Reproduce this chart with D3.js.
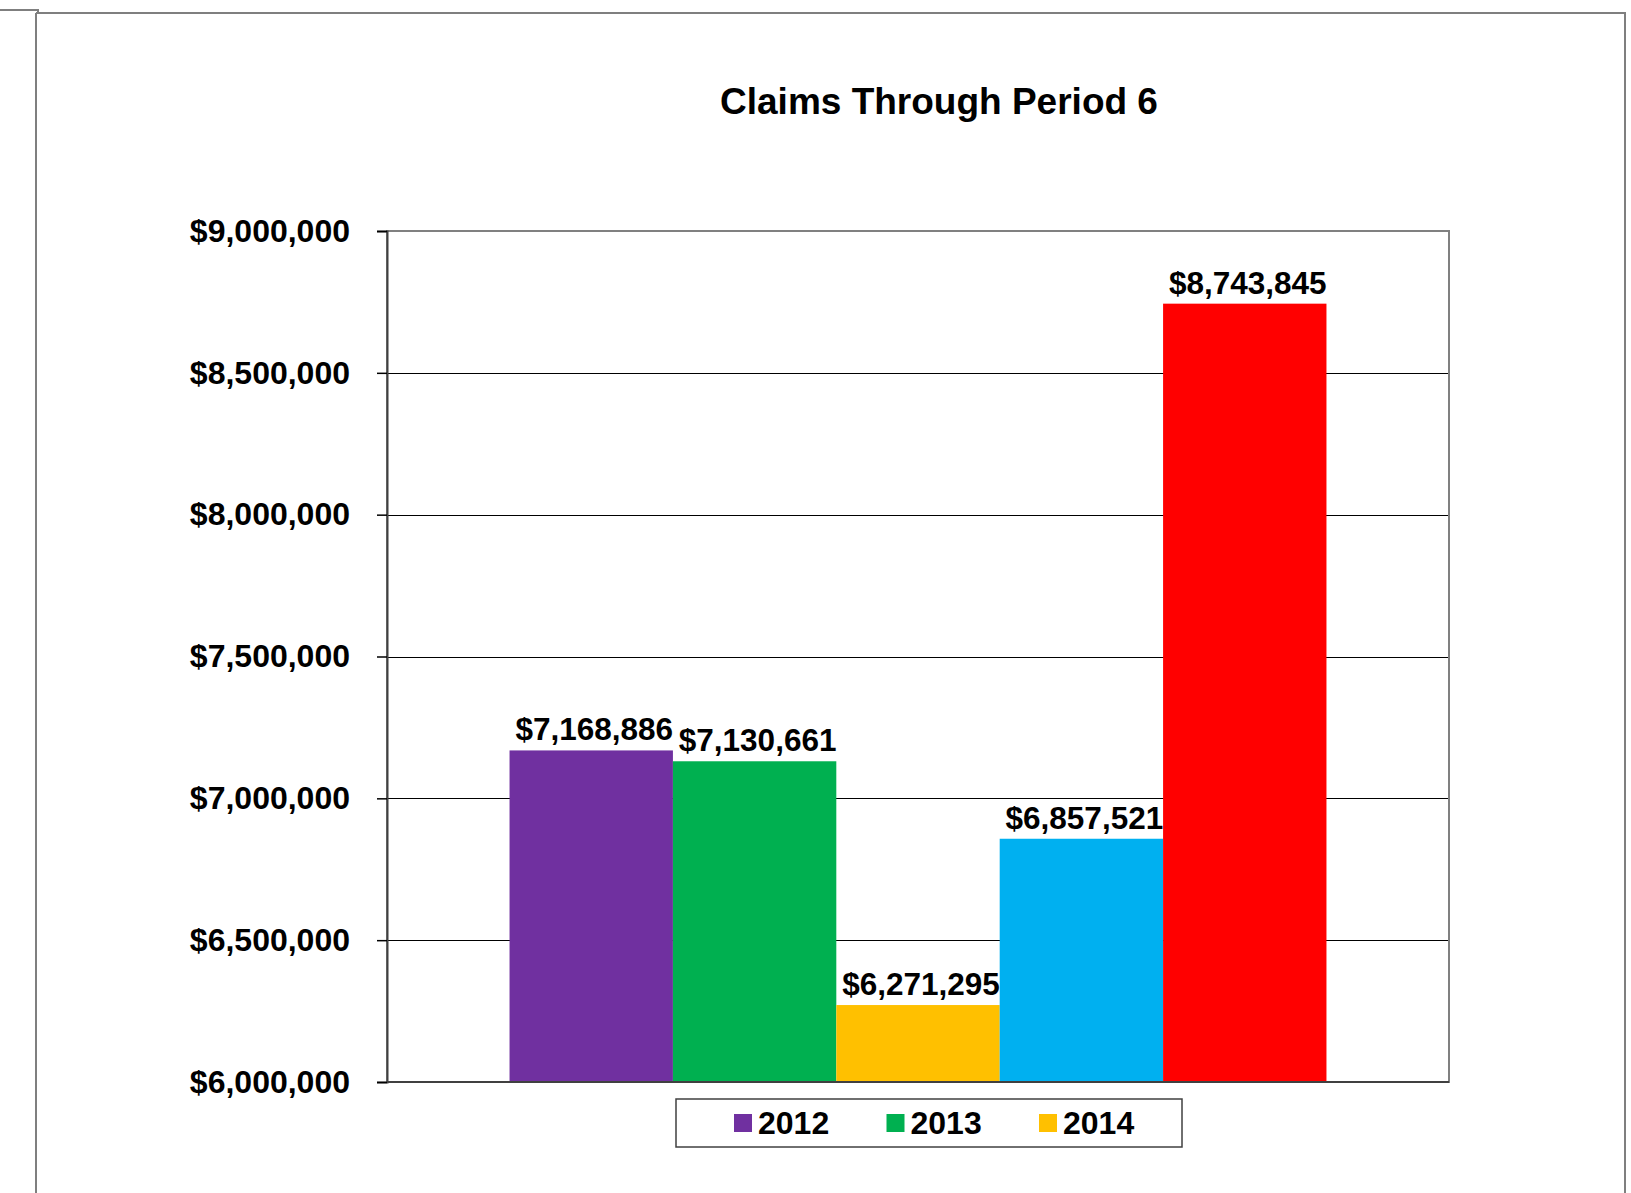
<!DOCTYPE html>
<html>
<head>
<meta charset="utf-8">
<script src="https://cdn.jsdelivr.net/npm/d3@7"></script>
<style>
  body { margin: 0; background: #fff; }
  svg { display: block; font-family: "Liberation Sans", Arial, sans-serif; }
</style>
</head>
<body>
<div id="chart"></div>
<script>
// data
var seriesNames = ["2012", "2013", "2014", "2015", "2016"];
var seriesValues = [7168886, 7130661, 6271295, 6857521, 8743845];
var seriesColors = ["#7030A0", "#00B050", "#FFC000", "#00B0F0", "#FF0000"];
var legendNames = ["2012", "2013", "2014"];
var yTicks = [6000000, 6500000, 7000000, 7500000, 8000000, 8500000, 9000000];
var chartTitle = "Claims Through Period 6";

var margin = { left: 387, right: 182, top: 231, bottom: 111 };
var width = 1631 - margin.left - margin.right;
var height = 1193 - margin.top - margin.bottom;

var svg = d3.select("#chart").append("svg")
    .attr("width", 1631)
    .attr("height", 1193);

// outer chart frame
svg.append("path")
    .attr("d", "M0,10 H38 V13 M36,13 V1193 M36,13 H1625 V1193")
    .attr("fill", "none")
    .attr("stroke", "#7f7f7f")
    .attr("stroke-width", 2);

svg.append("text")
    .attr("x", 939)
    .attr("y", 114)
    .attr("text-anchor", "middle")
    .attr("font-size", "37px")
    .attr("font-weight", "bold")
    .text(chartTitle);

var g = svg.append("g")
    .attr("transform", "translate(" + margin.left + "," + margin.top + ")");

var y = d3.scaleLinear()
    .domain([6000000, 9000000])
    .range([height, 0]);

// single category, bars take 5 slots with 150% gap
var x = d3.scaleBand()
    .domain(seriesNames)
    .range([0, width])
    .paddingInner(0)
    .paddingOuter(0.75);

// gridlines
g.selectAll(".grid")
    .data(yTicks.slice(1, -1))
    .enter().append("line")
    .attr("class", "grid")
    .attr("x1", 0)
    .attr("x2", width)
    .attr("y1", function(d) { return Math.round(y(d)) + 0.5; })
    .attr("y2", function(d) { return Math.round(y(d)) + 0.5; })
    .attr("stroke", "#000")
    .attr("stroke-width", 1);

// plot border
g.append("rect")
    .attr("x", 0)
    .attr("y", 0)
    .attr("width", width)
    .attr("height", height)
    .attr("fill", "none")
    .attr("stroke", "#808080")
    .attr("stroke-width", 2);

g.selectAll(".bar")
    .data(seriesValues)
    .enter().append("rect")
    .attr("class", "bar")
    .attr("x", function(d, i) { return x(seriesNames[i]); })
    .attr("y", function(d) { return y(d); })
    .attr("width", x.bandwidth())
    .attr("height", function(d) { return height - y(d); })
    .attr("fill", function(d, i) { return seriesColors[i]; });

// labels sit a little right of bar centre, like the original
g.selectAll(".barLabel")
    .data(seriesValues)
    .enter().append("text")
    .attr("class", "barLabel")
    .attr("x", function(d, i) { return x(seriesNames[i]) + x.bandwidth() / 2 + 3; })
    .attr("y", function(d) { return y(d) - 10; })
    .attr("text-anchor", "middle")
    .attr("font-size", "31.5px")
    .attr("font-weight", "bold")
    .text(function(d) { return "$" + d3.format(",")(d); });

// y axis
var yAxis = d3.axisLeft(y)
    .tickValues(yTicks)
    .tickSize(10)
    .tickPadding(27)
    .tickFormat(function(d) { return "$" + d3.format(",")(d); });

var axisG = g.append("g").call(yAxis);
axisG.select(".domain").attr("stroke", "#404040").attr("stroke-width", 2);
axisG.selectAll(".tick line").attr("stroke", "#000").attr("stroke-width", 1.5);
axisG.selectAll(".tick text")
    .attr("font-family", "Liberation Sans, Arial, sans-serif")
    .attr("font-size", "32px")
    .attr("font-weight", "bold")
    .attr("fill", "#000");

// x axis baseline
g.append("line")
    .attr("x1", 0)
    .attr("x2", width)
    .attr("y1", height)
    .attr("y2", height)
    .attr("stroke", "#404040")
    .attr("stroke-width", 2);

// legend
var legend = svg.append("g")
    .attr("transform", "translate(676,1099)");

legend.append("rect")
    .attr("width", 506)
    .attr("height", 48)
    .attr("fill", "#fff")
    .attr("stroke", "#404040")
    .attr("stroke-width", 1.5);

var legendRow = legend.selectAll(".legendRow")
    .data(legendNames)
    .enter().append("g")
    .attr("class", "legendRow")
    .attr("transform", function(d, i) { return "translate(" + (58 + i * 152.5) + ",0)"; });

legendRow.append("rect")
    .attr("y", 15)
    .attr("width", 18)
    .attr("height", 18)
    .attr("fill", function(d, i) { return seriesColors[i]; });

legendRow.append("text")
    .attr("x", 24)
    .attr("y", 35)
    .attr("font-size", "32px")
    .attr("font-weight", "bold")
    .text(function(d) { return d; });
</script>
</body>
</html>
